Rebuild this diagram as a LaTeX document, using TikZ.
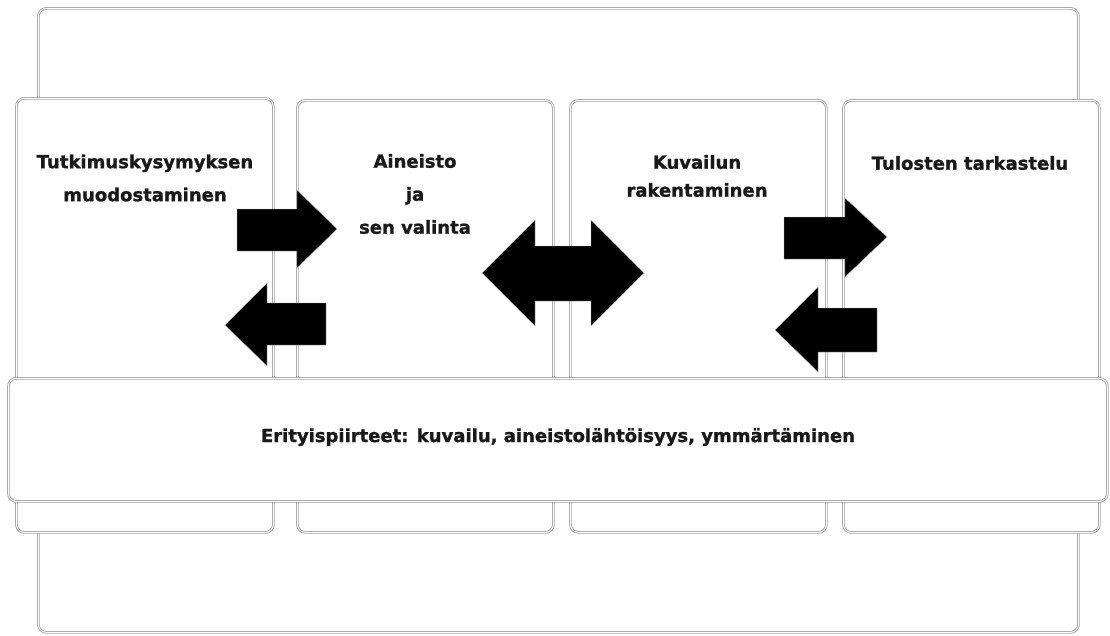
\documentclass[tikz,border=0pt]{standalone}
\usepackage{fontspec}
\newfontfamily\lblfont[FakeBold=1.2]{DejaVu Sans}
\begin{document}
\begin{tikzpicture}[x=1pt,y=-1pt,
  frame/.style={draw=gray!75, double=white, double distance=1pt, line width=0.8pt,
    fill=white, rounded corners=8pt},
  boxnode/.style={frame, inner sep=0pt, anchor=north west},
  lbl/.style={font=\lblfont\bfseries\fontsize{18}{33}\selectfont, text=black!90, align=center, inner sep=0pt},
  blockarrow/.style={fill=black, draw=gray!60, line width=0.4pt}
]
\useasboundingbox (0,0) rectangle (1110,635);
% outer frame
\node[boxnode, minimum width=1040pt, minimum height=624pt] (outer) at (38,8) {};
% columns
\node[boxnode, minimum width=257pt, minimum height=434pt] (c1) at (16,98) {};
\node[boxnode, minimum width=256pt, minimum height=432pt] (c2) at (297,100) {};
\node[boxnode, minimum width=256pt, minimum height=432pt] (c3) at (570,100) {};
\node[boxnode, minimum width=256pt, minimum height=432pt] (c4) at (843,100) {};
% band
\node[boxnode, minimum width=1099pt, minimum height=123pt] (band) at (8,378) {};
% labels
\node[lbl] (t1) at (145,178) {Tutkimuskysymyksen\\muodostaminen};
\node[lbl] (t2) at (415,194) {Aineisto\\ja\\sen valinta};
\node[lbl, font=\lblfont\bfseries\fontsize{18}{28}\selectfont] (t3) at (697,176) {Kuvailun\\rakentaminen};
\node[lbl] (t4) at (970,163) {Tulosten tarkastelu};
\node[lbl] (t5) at (558,437) {Erityispiirteet: kuvailu, aineistolähtöisyys, ymmärtäminen};
% block arrows
\draw[blockarrow] (237,209) -- (297,209) -- (297,190) -- (337,229) -- (297,268) -- (297,251) -- (237,251) -- cycle;
\draw[blockarrow] (326,303) -- (267,303) -- (267,283) -- (225,325) -- (267,366) -- (267,345) -- (326,345) -- cycle;
\draw[blockarrow] (482,273) -- (535,220) -- (535,246) -- (591,246) -- (591,220) -- (644,273) -- (591,326) -- (591,301) -- (535,301) -- (535,326) -- cycle;
\draw[blockarrow] (784,217) -- (845,217) -- (845,198) -- (887,237) -- (845,277) -- (845,259) -- (784,259) -- cycle;
\draw[blockarrow] (877,308) -- (818,308) -- (818,287) -- (775,330) -- (818,372) -- (818,352) -- (877,352) -- cycle;
\end{tikzpicture}
\end{document}
